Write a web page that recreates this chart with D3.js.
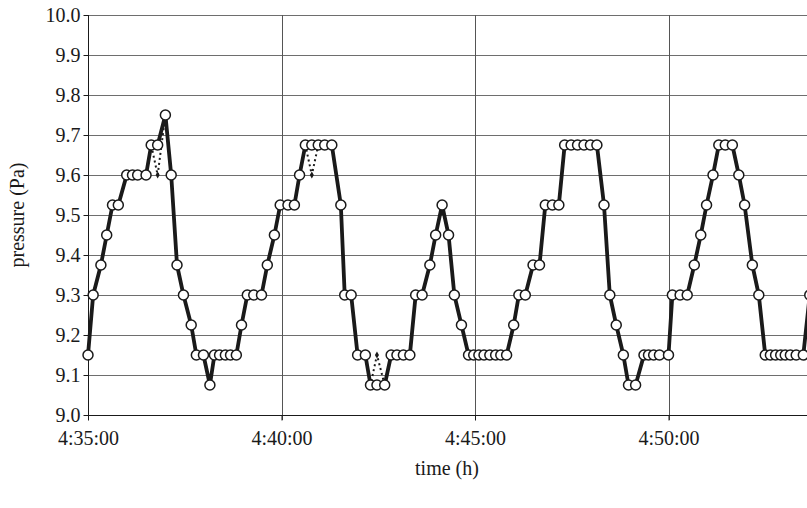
<!DOCTYPE html>
<html>
<head>
<meta charset="utf-8">
<script src="https://cdnjs.cloudflare.com/ajax/libs/d3/7.8.5/d3.min.js"></script>
<style>
	body { margin: 0; background: #ffffff; }
	svg text { font-family: "Liberation Serif", "Times New Roman", serif; fill: #1a1a1a; }
</style>
</head>
<body>
<div id="chart"></div>
<script>
//seconds after 4:35:00 for every sample
var secs = [0, 8, 20, 29, 38, 47, 60, 69, 77, 90,
	98, 108, 120, 129, 138, 148, 160, 168, 179, 189,
	196, 204, 213, 221, 230, 238, 247, 257, 269, 278,
	289, 298, 310, 320, 328, 337, 347, 357, 367, 378,
	392, 398, 408, 418, 430, 438, 448, 460, 470, 479,
	489, 499, 508, 518, 530, 539, 549, 559, 568, 579,
	590, 598, 606, 614, 623, 632, 640, 649, 660, 668,
	678, 690, 700, 709, 720, 730, 739, 749, 759, 769,
	779, 789, 800, 809, 819, 830, 838, 849, 862, 869,
	877, 886, 900, 906, 918, 929, 940, 950, 959, 969,
	978, 988, 999, 1009, 1018, 1030, 1040, 1050, 1058, 1066,
	1074, 1081, 1089, 1098, 1109, 1119];

//pressure (Pa), main series (circles)
var pressure = [9.15, 9.3, 9.375, 9.45, 9.525, 9.525, 9.6, 9.6, 9.6, 9.6,
	9.675, 9.675, 9.75, 9.6, 9.375, 9.3, 9.225, 9.15, 9.15, 9.075,
	9.15, 9.15, 9.15, 9.15, 9.15, 9.225, 9.3, 9.3, 9.3, 9.375,
	9.45, 9.525, 9.525, 9.525, 9.6, 9.675, 9.675, 9.675, 9.675, 9.675,
	9.525, 9.3, 9.3, 9.15, 9.15, 9.075, 9.075, 9.075, 9.15, 9.15,
	9.15, 9.15, 9.3, 9.3, 9.375, 9.45, 9.525, 9.45, 9.3, 9.225,
	9.15, 9.15, 9.15, 9.15, 9.15, 9.15, 9.15, 9.15, 9.225, 9.3,
	9.3, 9.375, 9.375, 9.525, 9.525, 9.525, 9.675, 9.675, 9.675, 9.675,
	9.675, 9.675, 9.525, 9.3, 9.225, 9.15, 9.075, 9.075, 9.15, 9.15,
	9.15, 9.15, 9.15, 9.3, 9.3, 9.3, 9.375, 9.45, 9.525, 9.6,
	9.675, 9.675, 9.675, 9.6, 9.525, 9.375, 9.3, 9.15, 9.15, 9.15,
	9.15, 9.15, 9.15, 9.15, 9.15, 9.3];

//second series (dotted, small diamonds), hidden under the first except at three samples
var pressureB = [9.15, 9.3, 9.375, 9.45, 9.525, 9.525, 9.6, 9.6, 9.6, 9.6,
	9.675, 9.6, 9.75, 9.6, 9.375, 9.3, 9.225, 9.15, 9.15, 9.075,
	9.15, 9.15, 9.15, 9.15, 9.15, 9.225, 9.3, 9.3, 9.3, 9.375,
	9.45, 9.525, 9.525, 9.525, 9.6, 9.675, 9.6, 9.675, 9.675, 9.675,
	9.525, 9.3, 9.3, 9.15, 9.15, 9.075, 9.15, 9.075, 9.15, 9.15,
	9.15, 9.15, 9.3, 9.3, 9.375, 9.45, 9.525, 9.45, 9.3, 9.225,
	9.15, 9.15, 9.15, 9.15, 9.15, 9.15, 9.15, 9.15, 9.225, 9.3,
	9.3, 9.375, 9.375, 9.525, 9.525, 9.525, 9.675, 9.675, 9.675, 9.675,
	9.675, 9.675, 9.525, 9.3, 9.225, 9.15, 9.075, 9.075, 9.15, 9.15,
	9.15, 9.15, 9.15, 9.3, 9.3, 9.3, 9.375, 9.45, 9.525, 9.6,
	9.675, 9.675, 9.675, 9.6, 9.525, 9.375, 9.3, 9.15, 9.15, 9.15,
	9.15, 9.15, 9.15, 9.15, 9.15, 9.3];

var yTicks = [9.0, 9.1, 9.2, 9.3, 9.4, 9.5, 9.6, 9.7, 9.8, 9.9, 10.0];
var xTicks = ["4:35:00", "4:40:00", "4:45:00", "4:50:00"];
var xEnd = "4:55:00";

var width = 807;
var height = 508;
var plotLeft = 88, plotTop = 15, plotBottom = 415;
var fiveMin = 193.5;
var fontSize = "20px";

var parseTime = d3.timeParse("%H:%M:%S");
var fmtTime = d3.timeFormat("%-H:%M:%S");
var start = parseTime(xTicks[0]);

var xScale = d3.scaleTime()
	.domain([start, parseTime(xEnd)])
	.range([plotLeft, plotLeft + fiveMin * 4]);

var yScale = d3.scaleLinear()
	.domain([9.0, 10.0])
	.range([plotBottom, plotTop]);

function toDate(s) { return new Date(start.getTime() + s * 1000); }

var svg = d3.select("#chart")
	.append("svg")
	.attr("width", width)
	.attr("height", height);

//horizontal grid
svg.append("g")
	.attr("class", "ygrid")
	.selectAll("line")
	.data(yTicks.slice(1))
	.enter().append("line")
	.attr("x1", plotLeft)
	.attr("x2", width)
	.attr("y1", function(d) { return Math.round(yScale(d)) + 0.5; })
	.attr("y2", function(d) { return Math.round(yScale(d)) + 0.5; })
	.style("stroke", "#6e6e6e")
	.style("stroke-width", 1);

//vertical grid
svg.append("g")
	.attr("class", "xgrid")
	.selectAll("line")
	.data(xTicks.slice(1))
	.enter().append("line")
	.attr("x1", function(d) { return Math.round(xScale(parseTime(d))) + 0.5; })
	.attr("x2", function(d) { return Math.round(xScale(parseTime(d))) + 0.5; })
	.attr("y1", plotTop)
	.attr("y2", plotBottom + 5)
	.style("stroke", "#555555")
	.style("stroke-width", 1);

//axes
var yAxis = d3.axisLeft(yScale)
	.tickValues(yTicks)
	.tickSize(5)
	.tickFormat(d3.format(".1f"));

var gy = svg.append("g")
	.attr("transform", "translate(" + (plotLeft + 0.5) + ",0)")
	.call(yAxis);
gy.select(".domain").remove();
gy.append("line")
	.attr("y1", plotTop).attr("y2", plotBottom + 5)
	.style("stroke", "#1a1a1a");
gy.selectAll(".tick line").style("stroke", "#1a1a1a");
gy.selectAll(".tick text")
	.attr("x", -8)
	.style("font-size", fontSize);

var xAxis = d3.axisBottom(xScale)
	.tickValues(xTicks.map(parseTime))
	.tickSize(5)
	.tickFormat(fmtTime);

var gx = svg.append("g")
	.attr("transform", "translate(0," + (plotBottom + 0.5) + ")")
	.call(xAxis);
gx.select(".domain").remove();
gx.append("line")
	.attr("x1", plotLeft).attr("x2", width)
	.style("stroke", "#1a1a1a");
gx.selectAll(".tick line").style("stroke", "#1a1a1a");
gx.selectAll(".tick text")
	.attr("y", 15)
	.style("font-size", fontSize);

//axis titles
svg.append("text")
	.attr("x", 447)
	.attr("y", 475)
	.attr("text-anchor", "middle")
	.style("font-size", fontSize)
	.text("time (h)");

svg.append("text")
	.attr("transform", "translate(24," + ((plotTop + plotBottom) / 2) + ") rotate(-90)")
	.attr("text-anchor", "middle")
	.style("font-size", fontSize)
	.text("pressure (Pa)");

var plot = svg.append("g");

//second series first, so the main line hides it where both agree
var lineB = d3.line()
	.x(function(d, i) { return xScale(toDate(secs[i])); })
	.y(function(d) { return yScale(d); });

plot.append("path")
	.datum(pressureB)
	.attr("d", lineB)
	.style("fill", "none")
	.style("stroke", "#1a1a1a")
	.style("stroke-width", 2)
	.style("stroke-dasharray", "2,3");

plot.selectAll(".markB")
	.data(pressureB)
	.enter().append("path")
	.attr("class", "markB")
	.attr("d", d3.symbol().type(d3.symbolDiamond).size(14))
	.attr("transform", function(d, i) { return "translate(" + xScale(toDate(secs[i])) + "," + yScale(d) + ")"; })
	.style("fill", "#1a1a1a");

var line = d3.line()
	.x(function(d, i) { return xScale(toDate(secs[i])); })
	.y(function(d) { return yScale(d); });

plot.append("path")
	.datum(pressure)
	.attr("d", line)
	.style("fill", "none")
	.style("stroke", "#1a1a1a")
	.style("stroke-width", 3.8)
	.style("stroke-linejoin", "round");

plot.selectAll(".dot")
	.data(pressure)
	.enter().append("circle")
	.attr("class", "dot")
	.attr("cx", function(d, i) { return xScale(toDate(secs[i])); })
	.attr("cy", function(d) { return yScale(d); })
	.attr("r", 5)
	.style("fill", "#ffffff")
	.style("stroke", "#1a1a1a")
	.style("stroke-width", 1.5);
</script>
</body>
</html>
